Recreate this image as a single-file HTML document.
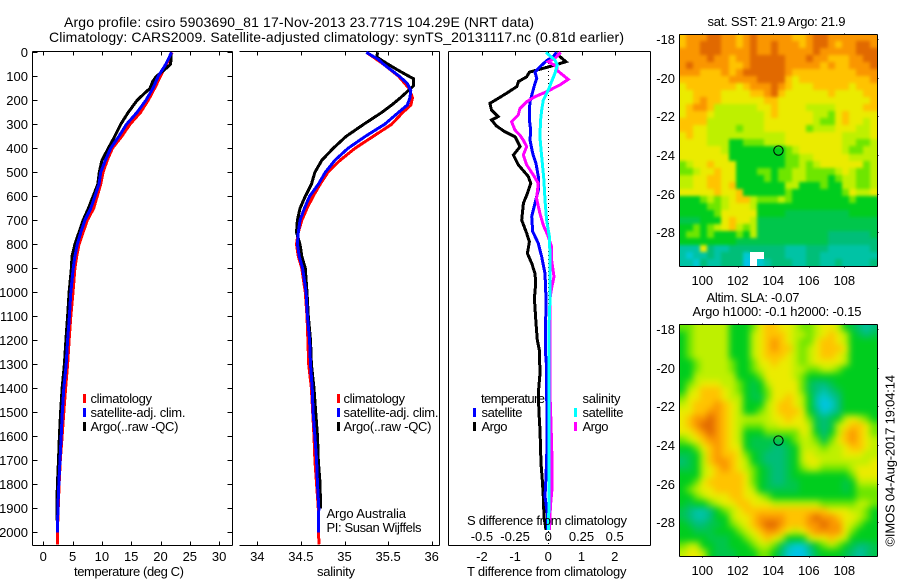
<!DOCTYPE html>
<html lang="en"><head><meta charset="utf-8"><title>Argo profile 5903690_81</title>
<style>
html,body{margin:0;padding:0;background:#fff;width:900px;height:580px;overflow:hidden}
svg{display:block}
text{font-family:"Liberation Sans",sans-serif;font-size:13px;fill:#000}
</style></head>
<body>
<svg id="chart" xmlns="http://www.w3.org/2000/svg" width="900" height="580" viewBox="0 0 900 580">
<defs>
<filter id="sst-smooth" x="-10%" y="-10%" width="120%" height="120%" color-interpolation-filters="sRGB">
<feGaussianBlur stdDeviation="1.6"/>
<feComponentTransfer><feFuncA type="linear" slope="50" intercept="0"/></feComponentTransfer>
</filter>
<filter id="sla-smooth" x="-10%" y="-10%" width="120%" height="120%" color-interpolation-filters="sRGB">
<feGaussianBlur stdDeviation="3.4"/>
<feComponentTransfer><feFuncA type="linear" slope="50" intercept="0"/></feComponentTransfer>
</filter>
<clipPath id="sst-clip"><rect x="679" y="34" width="198" height="232"/></clipPath>
<clipPath id="sla-clip"><rect x="679" y="324" width="198" height="232"/></clipPath>
</defs>
<rect width="900" height="580" fill="#fff"/>
<text x="64" y="27" textLength="470" style="font-size:14px">Argo profile: csiro 5903690_81 17-Nov-2013 23.771S 104.29E (NRT data)</text>
<text x="49" y="42" textLength="575" style="font-size:14px">Climatology: CARS2009. Satellite-adjusted climatology: synTS_20131117.nc (0.81d earlier)</text>
<g id="marks"></g>
<g>
<rect x="83" y="394" width="3" height="9" fill="#f00"/>
<text x="90.5" y="403" textLength="61.5">climatology</text>
<rect x="83" y="408" width="3" height="9" fill="#00f"/>
<text x="90.5" y="417" textLength="95">satellite-adj. clim.</text>
<rect x="83" y="422" width="3" height="9" fill="#000"/>
<text x="90.5" y="431" textLength="88">Argo(..raw -QC)</text>
</g>
<g>
<rect x="337" y="394" width="3" height="9" fill="#f00"/>
<text x="343.5" y="403" textLength="61.5">climatology</text>
<rect x="337" y="408" width="3" height="9" fill="#00f"/>
<text x="343.5" y="417" textLength="95">satellite-adj. clim.</text>
<rect x="337" y="422" width="3" height="9" fill="#000"/>
<text x="343.5" y="431" textLength="88">Argo(..raw -QC)</text>
</g>
<text x="326.5" y="518" textLength="79.5">Argo Australia</text>
<text x="326.5" y="532" textLength="95">PI: Susan Wijffels</text>
<g>
<text x="481" y="403" textLength="64">temperature</text>
<rect x="473" y="408" width="3" height="9" fill="#00f"/>
<text x="481.5" y="417" textLength="41">satellite</text>
<rect x="473" y="422" width="3" height="9" fill="#000"/>
<text x="481.5" y="431" textLength="26">Argo</text>
<text x="582.5" y="403" textLength="38">salinity</text>
<rect x="574" y="408" width="3" height="9" fill="#0ff"/>
<text x="582.5" y="417" textLength="41">satellite</text>
<rect x="574" y="422" width="3" height="9" fill="#f0f"/>
<text x="582.5" y="431" textLength="26">Argo</text>
</g>
<text x="467" y="525" textLength="160">S difference from climatology</text>
<text x="467" y="576" textLength="159.5">T difference from climatology</text>
<text x="74" y="576" textLength="110">temperature (deg C)</text>
<text x="317" y="576" textLength="38">salinity</text>
<text x="707.5" y="26" textLength="138">sat. SST: 21.9 Argo: 21.9</text>
<text x="706.5" y="302" textLength="93">Altim. SLA: -0.07</text>
<text x="692.5" y="316" textLength="169">Argo h1000: -0.1 h2000: -0.15</text>
<text transform="translate(894.5,546.5) rotate(-90)" x="0" y="0" textLength="171.5">©IMOS 04-Aug-2017 19:04:14</text>
</svg>
<script>
// ---------- temperature profile data (deg C) ----------
const tempClimDepths = [0,50,100,150,200,250,300,350,400,450,500,550,600,650,700,750,800,850,900,1000,1100,1200,1300,1400,1500,1600,1700,1800,1900,2000,2050];
const tempClimValues = [22.0,21.0,20.0,19.0,17.9,16.6,14.8,13.4,11.8,10.9,10.2,9.8,9.2,8.6,7.5,6.8,6.1,5.7,5.4,5.06,4.7,4.4,4.15,3.8,3.5,3.2,2.9,2.7,2.55,2.4,2.4];
const tempSatDepths = [0,50,100,150,200,250,300,350,400,450,500,550,600,650,700,750,800,850,900,1000,1100,1200,1300,1400,1500,1600,1700,1800,1900,2000];
const tempSatValues = [21.9,20.9,19.6,18.7,17.5,16.0,14.2,12.9,11.5,10.6,9.8,9.5,8.8,8.1,7.1,6.4,5.8,5.4,5.1,4.7,4.45,4.15,3.9,3.5,3.25,3.05,2.85,2.65,2.5,2.4];
const tempArgoDepths = [0,30,50,70,100,120,150,170,200,250,300,350,400,450,500,550,600,650,700,750,800,850,900,1000,1100,1200,1300,1400,1500,1600,1700,1800,1900,1950];
const tempArgoValues = [21.8,21.8,21.7,20.8,19.3,18.7,18.2,17.3,16.0,14.5,13.2,12.2,11.1,10.0,9.55,9.3,8.5,7.7,6.8,6.1,5.4,4.9,4.8,4.4,4.15,3.85,3.6,3.2,2.95,2.75,2.6,2.4,2.3,2.3];
// ---------- salinity profile data (psu) ----------
const salClimDepths = [0,20,50,100,150,190,220,250,300,350,400,450,500,550,600,650,700,750,800,850,900,1000,1100,1200,1300,1400,1500,1600,1700,1800,1900,2000,2050];
const salClimValues = [35.25,35.33,35.45,35.62,35.74,35.78,35.76,35.67,35.54,35.33,35.12,34.95,34.81,34.72,34.64,34.57,34.51,34.47,34.45,34.47,34.51,34.55,34.57,34.58,34.59,34.62,34.635,34.65,34.66,34.68,34.70,34.70,34.71];
const salSatDepths = [0,30,50,100,130,160,190,220,250,300,350,400,450,500,550,600,650,700,750,800,850,900,1000,1100,1200,1300,1400,1500,1600,1700,1800,1900,2000];
const salSatValues = [35.25,35.39,35.45,35.63,35.72,35.76,35.75,35.72,35.62,35.46,35.24,35.04,34.89,34.78,34.70,34.60,34.54,34.49,34.47,34.46,34.48,34.52,34.56,34.575,34.60,34.61,34.63,34.64,34.66,34.68,34.69,34.705,34.70];
const salArgoDepths = [0,20,50,80,110,140,160,190,220,250,300,350,400,450,500,550,600,650,700,750,800,850,900,1000,1100,1200,1300,1400,1500,1600,1700,1800,1900];
const salArgoValues = [35.38,35.37,35.5,35.64,35.79,35.79,35.73,35.64,35.54,35.43,35.22,35.02,34.87,34.74,34.66,34.62,34.55,34.49,34.46,34.45,34.49,34.51,34.55,34.57,34.585,34.61,34.62,34.65,34.67,34.69,34.70,34.72,34.725];
// ---------- difference from climatology ----------
const diffTArgoDepths = [4,18,39,53,63,74,83,102,122,143,171,192,213,241,268,282,307,331,352,393,428,469,518,546,588,629,699,754,789,838,879,921,963,1025,1129,1199,1240,1338,1421,1504,1574,1713,1782,1851,1935,1990];
const diffTArgoValues = [.25,.35,.53,.2,-.05,-.35,-.57,-.65,-.9,-.95,-1.26,-1.51,-1.76,-1.71,-1.51,-1.71,-1.56,-1.31,-1.0,-.85,-1.05,-.9,-.6,-.53,-.63,-.75,-.8,-.65,-.57,-.63,-.5,-.4,-.38,-.42,-.37,-.33,-.27,-.25,-.3,-.28,-.25,-.22,-.18,-.15,-.13,-.07];
const diffTSatDepths = [0,18,35,60,83,108,129,164,206,241,282,324,366,421,463,518,574,629,685,747,796,852,921,1025,1240,1310,1421,1504,1643,1768,1851,1921,1990];
const diffTSatValues = [.25,.15,-.05,-.25,-.4,-.35,-.4,-.47,-.55,-.57,-.57,-.53,-.55,-.47,-.37,-.3,-.3,-.4,-.5,-.47,-.3,-.2,-.1,-.07,-.09,-.05,-.05,-.04,-.04,-.07,-.1,-.03,-.03];
const diffSArgoDepths = [0,25,39,60,76,113,136,164,185,206,234,261,289,324,345,366,393,428,469,511,546,609,671,720,768,810,866,935,983,1025,1171,1449,1546,1685,1824,1893,1990];
const diffSArgoValues = [.093,.05,0,.063,.068,.15,.088,-.013,-.1,-.163,-.214,-.226,-.276,-.251,-.214,-.188,-.163,-.188,-.163,-.113,-.075,-.088,-.063,-.038,0,.025,.025,.043,.025,.013,.014,.014,.02,.027,.027,.016,.01];
const diffSSatDepths = [0,32,53,88,122,157,199,241,282,352,435,532,616,699,768,852,1025,1171,1449,1726,1865,1990];
const diffSSatValues = [-.018,.05,.068,.05,.025,0,-.038,-.05,-.058,-.063,-.05,-.033,-.025,-.013,.008,.013,.013,.004,.004,.006,.006,0];
// ---------- tick labels ----------
const depthTicks = [0,100,200,300,400,500,600,700,800,900,1000,1100,1200,1300,1400,1500,1600,1700,1800,1900,2000];
const tempTicks = [0,5,10,15,20,25,30];
const salTicks = ['34','34.5','35','35.5','36'];
const diffTTicks = ['-2','-1','0','1','2'];
const diffSTicks = ['-0.5','-0.25','0','0.25','0.5'];
const lonTicks = [100,102,104,106,108];
const latTicks = [-18,-20,-22,-24,-26,-28];
// ---------- profile position ----------
const profileLon = [104.29];
const profileLat = [-23.771];
// ---------- SST map colour levels (north to south, west to east; null = no data) ----------
const sstRows = [
[8,9,9,9,10,10,9,9,8,9,10,9,9,9,9,9,8,8,9,10,10,9,9,9,9,9,9,9],
[8,9,9,10,10,10,9,9,8,9,10,9,9,10,9,9,9,8,9,10,10,9,8,9,9,10,10,9],
[9,9,9,10,10,10,9,9,9,9,10,9,9,10,9,9,9,9,9,10,9,9,9,9,9,10,10,10],
[9,9,9,9,10,9,9,8,9,9,10,10,10,10,10,9,9,9,10,9,9,8,8,8,9,9,10,10],
[9,10,9,9,9,9,9,8,8,9,10,10,10,10,10,9,9,9,9,9,8,9,8,8,9,9,9,10],
[9,9,9,8,8,8,9,8,9,10,10,10,10,10,10,9,8,8,8,8,8,8,8,8,8,9,9,9],
[8,8,8,8,8,8,8,9,9,9,9,10,10,10,10,8,7,8,8,8,8,8,8,8,8,8,8,9],
[7,8,8,8,8,8,8,8,7,8,9,9,9,10,9,8,7,7,7,8,8,8,8,8,7,8,8,8],
[7,7,8,8,8,8,7,7,7,7,8,8,9,10,8,7,7,7,7,7,7,8,7,7,7,7,8,8],
[7,7,8,9,8,8,7,7,7,7,7,7,8,8,7,7,7,7,7,7,7,7,7,7,7,7,7,8],
[7,8,9,9,8,6,6,6,6,6,6,7,7,8,7,7,7,7,6,6,6,6,7,7,7,7,8,8],
[7,8,8,8,7,6,6,6,6,6,6,6,7,8,7,7,7,7,7,6,6,5,7,8,7,7,7,7],
[8,8,8,8,6,6,6,6,6,6,6,6,7,7,7,7,7,7,7,6,5,5,7,8,7,7,6,7],
[8,8,7,7,6,6,6,6,5,6,6,6,7,7,7,7,7,7,5,6,6,6,7,7,7,6,6,7],
[7,8,7,7,6,6,6,6,6,6,6,6,6,6,6,7,7,7,7,7,7,7,7,6,6,6,6,7],
[7,7,7,7,6,6,6,4,4,5,5,5,6,6,6,7,7,7,7,7,7,7,7,6,6,5,5,6],
[7,7,7,7,7,7,6,4,4,4,4,4,4,4,4,5,6,7,7,7,7,7,7,6,5,5,6,6],
[7,7,7,7,7,7,7,4,4,4,4,4,4,4,4,5,5,6,6,7,7,7,7,7,6,6,6,6],
[5,6,7,7,8,7,7,7,4,4,4,4,4,4,4,5,5,6,5,6,7,7,7,7,7,7,5,6],
[5,5,6,7,7,8,7,7,4,4,4,5,5,4,5,5,6,6,5,5,5,5,6,7,6,5,5,6],
[6,6,7,7,8,8,7,7,4,4,4,4,5,4,5,5,6,6,5,5,5,4,5,6,6,5,5,6],
[6,6,7,7,8,8,7,8,4,4,4,4,4,4,4,6,6,4,4,4,5,4,4,6,6,5,5,6],
[7,7,7,7,7,8,7,7,8,4,4,4,4,4,4,5,4,4,4,4,4,4,4,5,7,6,6,7],
[4,4,4,5,6,5,6,7,8,8,6,5,5,5,6,5,4,4,4,4,4,4,4,4,5,4,4,4],
[4,4,4,4,5,5,6,7,7,7,6,4,4,4,4,4,4,4,4,4,4,4,4,4,4,4,4,4],
[4,4,4,4,4,5,7,7,7,7,7,4,4,4,4,3.5,3.5,3.5,3.5,3.5,3.5,3.5,3.5,3.5,4,4,4,4],
[3.5,3.5,3.5,4,4,4,7,8,7,7,6,3.5,3.5,3.5,3.5,3.5,3.5,3.5,3.5,3.5,3.5,3.5,3.5,3.5,3.5,3.5,3.5,3.5],
[4,4,5,4,5,6,7,8,6,5,6,3.5,3.5,3.5,3.5,3.5,3.5,3.5,3.5,3.5,3.5,3.5,3.5,3.5,3.5,3.5,3.5,3.5],
[4,5,5,4,5,4,4,4,5,4,6,3.5,3.5,3.5,3.5,3.5,3.5,3.5,3.5,3.5,3.5,3,3,3,3,3,3,3.5],
[4,4,4,4,4,4,4,4,3.5,3.5,3.5,3.5,3.5,3.5,3.5,3.5,3.5,3.5,3.5,3.5,3.5,3,3,3,3,3,3,3],
[2.5,2.5,2.5,7,3,2.5,2.5,3,3,3,3,3,3,3,3,2.5,2.5,2.5,3,3,3,2.5,2.5,2.5,2.5,2.5,2.5,3],
[2.5,2,2.5,2.5,3,2.5,3,3,3,2,null,null,3,3,3,2.5,2.5,2.5,3,3,2.5,2.5,2.5,2.5,2.5,2.5,2.5,2.5],
[2.5,2.5,2,3,2.5,2.5,3,3,3,1.5,null,2,2.5,3,3,3,2.5,2.5,3,3,2.5,2.5,3,2.5,2.5,2.5,2.5,3]
];
// ---------- SLA map colour levels (north to south, west to east) ----------
const slaRows = [
[5,5,6,6,6,6,6,4,4,4,5,7,8,8,7,7,6,5,5,6,7,7,6,4,3.5,3,2.5,3],
[4,5,6,6,6,6,6,4,4,4,6,7,8,8,8,7,6,6,5,6,7,8,7,6,4,3.5,3,3.5],
[4,5,6,6,6,6,6,4,4,4,6,7,8,9,8,7,6,5,5,7,8,8,7,6,4,4,4,4],
[4,5,6,6,6,6,6,4,4,4,6,7,8,9,8,8,6,5,6,7,8,8,8,7,4,4,4,4],
[4,5,6,6,6,6,6,4,4,4,6,7,8,8,8,7,6,5,6,7,8,8,7,6,4,4,4,4],
[4,4,5,6,6,6,6,5,4,4,5,7,7,8,7,7,6,5,6,7,7,7,7,6,4,4,4,4],
[4,4,5,6,6,6,6,5,4,4,5,6,7,7,7,7,6,6,5,5,6,6,5,4,4,4,4,4],
[4,4,6,6,6,6,6,6,4,4,4,5,7,7,7,7,6,5,4,4,4,4,4,4,4,4,4,4],
[4,5,6,7,7,7,6,6,5,4,3.5,4,6,7,7,7,7,5,3.5,3,3,3.5,4,4,4,4,4,4],
[4,6,7,8,8,8,7,6,5,4,3.5,4,5,7,7,7,7,5,3.5,3,2.5,3,3.5,4,4,4,4,4],
[5,7,7,8,8,8,7,6,6,4,3.5,3.5,5,7,7,8,7,6,4,2.5,2,2.5,3,4,4,4,4,4],
[6,7,8,8,8,9,8,7,6,4,4,4,6,7,8,8,7,6,4,2.5,1.5,2,3,4,4,4,4,4],
[7,7,8,8,9,9,8,7,6,4,4,5,6,7,8,8,8,7,4,3,2,2.5,3,4,4,4,4,4],
[7,8,9,9,10,9,8,7,6,6,6,6,6,7,7,8,7,7,5,3.5,3,3.5,4,6,7,6,5,4],
[7,8,9,10,10,9,8,7,6,5,5,5,6,6,7,7,7,7,6,3.5,3,3.5,6,7,8,8,7,5],
[7,7,8,9,10,9,8,7,6,4,4,4,5,5,5,5,5,7,6,4,3,4,6,8,9,8,7,5],
[5,6,7,8,9,9,8,7,6,4,3.5,3.5,3.5,3.5,3.5,4,5,6,6,5,3.5,5,7,8,9,8,7,6],
[4,4,5,7,8,9,8,7,7,4,3.5,3.5,3.5,3,3,3.5,4,6,6,6,5,6,6,7,8,8,7,6],
[3.5,3.5,4,6,8,9,8,8,7,5,4,3.5,3,3,3,3.5,4,6,7,6,6,6,6,7,7,7,6,6],
[3,3.5,4,6,8,9,9,8,7,6,4,3.5,3,3,3,3.5,4,6,7,7,6,6,6,6,6,6,6,7],
[3.5,3.5,4,6,7,8,9,8,7,6,5,4,3.5,3,3,3.5,4,5,6,6,5,5,5,5,6,7,7,7],
[4,4,4,6,7,8,8,8,8,7,5,4,3.5,3,3,3.5,4,4,4,4,4,4,4,4,5,7,7,7],
[4,4,5,7,8,8,8,8,8,7,5,4,3.5,3,3,3.5,3.5,4,4,4,4,4,4,3.5,4,6,6,6],
[4,5,6,7,7,8,8,8,8,7,6,4,3.5,3.5,3.5,3.5,3.5,4,4,4,4,4,4,3.5,4,5,5,5],
[4,4,5,6,7,7,7,8,8,7,7,6,5,4,4,4,4,4,4,4,4,4,4,4,4,5,5,5],
[4,3.5,4,4,5,6,7,7,8,8,7,7,7,6,6,6,6,6,6,6,5,5,5,5,5,6,6,5],
[3.5,3,2.5,2.5,3,4,5,6,7,8,8,8,8,8,8,8,8,8,8,8,8,7,7,7,6,6,5,4],
[3.5,3,2.5,2.5,3,4,4,6,7,7,8,9,9,9,9,8,8,8,9,10,9,9,8,7,7,6,5,4],
[4,3.5,3,3,3.5,3.5,4,5,6,7,8,9,10,10,9,8,8,8,9,9,10,9,9,7,6,5,4,4],
[4,4,3.5,3.5,3.5,4,4,4,5,6,7,8,9,9,8,7,6,7,8,9,9,9,9,7,5,4,4,4],
[4,4,4,4,3.5,3.5,3.5,4,4,5,6,7,8,7,6,4,4,4,6,7,7,8,7,6,4,4,4,4],
[5,6,6,4,4,3.5,3.5,4,4,4,5,6,6,5,3.5,2.5,2,2,3,4,5,6,5,4,3.5,3,3,3.5],
[6,7,7,6,4,3.5,3.5,3.5,4,4,4,5,5,4,3,2,1.5,1.5,2.5,3.5,4,4,4,3.5,3,2.5,3,3.5]
];

// ---------- axis functions ----------
const SVGNS = 'http://www.w3.org/2000/svg';
const yDepth = d => 52.3 + d * 0.24;
const xTemp = t => 43.3 + t * 5.86;
const xSal = s => 257.3 + (s - 34) * 87.2;
const xDiffT = t => 548.3 + t * 33.2;
const xDiffS = s => 548.3 + s * 132.8;
const xLon = lon => 702.3 + (lon - 100) * 17.75;
const ySstLat = lat => 39 + (-18 - lat) * 19.33;
const ySlaLat = lat => 329 + (-18 - lat) * 19.33;

const root = document.getElementById('marks');
function make(tag, attrs, parent) {
  const el = document.createElementNS(SVGNS, tag);
  for (const k in attrs) el.setAttribute(k, attrs[k]);
  (parent || root).appendChild(el);
  return el;
}
function seg(x1, y1, x2, y2, parent) {
  return make('line', {x1: Math.round(x1) + .5, y1: Math.round(y1) + .5, x2: Math.round(x2) + .5, y2: Math.round(y2) + .5, stroke: '#000', 'stroke-width': 1, 'shape-rendering': 'crispEdges'}, parent);
}
function label(txt, x, y, anchor, parent) {
  const el = make('text', {x: x, y: y, 'text-anchor': anchor}, parent);
  el.textContent = txt;
  return el;
}
function profile(depths, values, xf, color) {
  const pts = depths.map((d, i) => xf(values[i]).toFixed(1) + ',' + yDepth(d).toFixed(1)).join(' ');
  return make('polyline', {points: pts, fill: 'none', stroke: color, 'stroke-width': 3, 'stroke-linejoin': 'miter', 'shape-rendering': 'crispEdges'});
}

// ---------- profile axes ----------
const bottomY = 545, topY = 51;
// temperature panel frame
const tempFrame = make('g', {});


seg(32, topY, 232, topY, tempFrame);
seg(32, bottomY, 232, bottomY, tempFrame);
seg(32, topY, 32, bottomY, tempFrame);
seg(232, topY, 232, bottomY, tempFrame);
depthTicks.forEach(d => {
  const y = yDepth(d);
  seg(32, y, 37, y, tempFrame);
  seg(227, y, 232, y, tempFrame);
  const t = label(String(d), 28, Math.round(y) + 5, 'end', tempFrame);
  
  
});
tempTicks.forEach(v => {
  const x = xTemp(v);
  seg(x, topY, x, topY + 4, tempFrame);
  seg(x, bottomY - 4, x, bottomY, tempFrame);
  const t = label(String(v), x, 561, 'middle', tempFrame);
  
  
});
// salinity panel frame
const salFrame = make('g', {});


seg(239, topY, 439, topY, salFrame);
seg(239, bottomY, 439, bottomY, salFrame);
seg(439, topY, 439, bottomY, salFrame);
salTicks.forEach(v => {
  const x = xSal(parseFloat(v));
  seg(x, topY, x, topY + 4, salFrame);
  seg(x, bottomY - 4, x, bottomY, salFrame);
  const t = label(v, x, 561, 'middle', salFrame);
  
  
});
// difference panel frame
const diffFrame = make('g', {});


seg(448, topY, 650, topY, diffFrame);
seg(448, bottomY, 650, bottomY, diffFrame);
seg(448, topY, 448, bottomY, diffFrame);
seg(650, topY, 650, bottomY, diffFrame);
diffTTicks.forEach(v => {
  const x = xDiffT(parseFloat(v));
  seg(x, topY, x, topY + 4, diffFrame);
  const t = label(v, x, 561, 'middle', diffFrame);
  
  
});
diffSTicks.forEach(v => {
  const t = label(v, xDiffS(parseFloat(v)), 541, 'middle', diffFrame);
  
  
});
const zeroLine = make('line', {x1: 548.5, x2: 548.5, y1: topY, y2: bottomY, stroke: '#000', 'stroke-width': 1, 'stroke-dasharray': '1 3', 'shape-rendering': 'crispEdges'});



// ---------- profile series ----------
const tempClimLine = profile(tempClimDepths, tempClimValues, xTemp, '#f00');


const tempArgoLine = profile(tempArgoDepths, tempArgoValues, xTemp, '#000');


const tempSatLine = profile(tempSatDepths, tempSatValues, xTemp, '#00f');


const salClimLine = profile(salClimDepths, salClimValues, xSal, '#f00');


const salArgoLine = profile(salArgoDepths, salArgoValues, xSal, '#000');


const salSatLine = profile(salSatDepths, salSatValues, xSal, '#00f');


const diffTArgoLine = profile(diffTArgoDepths, diffTArgoValues, xDiffT, '#000');


const diffTSatLine = profile(diffTSatDepths, diffTSatValues, xDiffT, '#00f');


const diffSArgoLine = profile(diffSArgoDepths, diffSArgoValues, xDiffS, '#f0f');


const diffSSatLine = profile(diffSSatDepths, diffSSatValues, xDiffS, '#0ff');



// ---------- maps ----------
const stops = [[0,190,255],[0,200,210],[0,190,120],[0,205,30],[110,230,0],[190,240,0],[235,235,0],[255,195,0],[250,150,0],[225,105,0]];
function levelColor(v) {
  const p = Math.max(0, Math.min(stops.length - 1.001, v - 1));
  const i = Math.floor(p), f = p - i;
  const c = stops[i].map((s, k) => Math.round(s + (stops[i + 1][k] - s) * f));
  return 'rgb(' + c.join(',') + ')';
}
function drawMap(rows, left, top, width, height, latFn, baseline, mapName, smoothId, clipId) {
  const g = make('g', {});
  
  
  const clip = make('g', {'clip-path': 'url(#' + clipId + ')'}, g);
  const cells = make('g', {filter: 'url(#' + smoothId + ')'}, clip);
  const ch = height / rows.length;
  rows.forEach((row, r) => {
    const cw = width / row.length;
    row.forEach((v, c) => {
      const x0 = Math.round(left + c * cw), x1 = Math.round(left + (c + 1) * cw);
      const y0 = Math.round(top + r * ch), y1 = Math.round(top + (r + 1) * ch);
      if (v === null) {
        const gap = make('rect', {x: x0, y: y0, width: x1 - x0, height: y1 - y0, fill: '#fff', 'shape-rendering': 'crispEdges'}, clip);
        
        
      } else {
        const cell = make('rect', {x: x0, y: y0, width: x1 - x0, height: y1 - y0, fill: levelColor(v), 'shape-rendering': 'crispEdges'}, cells);
        
        
      }
    });
  });
  const right = left + width, bottom = top + height;
  seg(left, top, right, top, g);
  seg(left, bottom, right, bottom, g);
  seg(left, top, left, bottom, g);
  seg(right, top, right, bottom, g);
  lonTicks.forEach(lon => {
    const x = xLon(lon);
    seg(x, top - 1, x, top, g);
    seg(x, bottom, x, bottom + 1, g);
    const t = label(String(lon), x, baseline, 'middle', g);
    
    
  });
  latTicks.forEach(lat => {
    const y = latFn(lat);
    seg(right, y, right + 1, y, g);
    const t = label(String(lat), 675, Math.round(y) + 5, 'end', g);
    
    
  });
  const dot = make('circle', {cx: xLon(profileLon[0]), cy: latFn(profileLat[0]), r: 4.7, fill: 'none', stroke: '#000', 'stroke-width': 1}, g);
  
  
}
drawMap(sstRows, 679, 34, 198, 232, ySstLat, 285, 'sst-map', 'sst-smooth', 'sst-clip');
drawMap(slaRows, 679, 324, 198, 232, ySlaLat, 575, 'sla-map', 'sla-smooth', 'sla-clip');
</script>
</body></html>
